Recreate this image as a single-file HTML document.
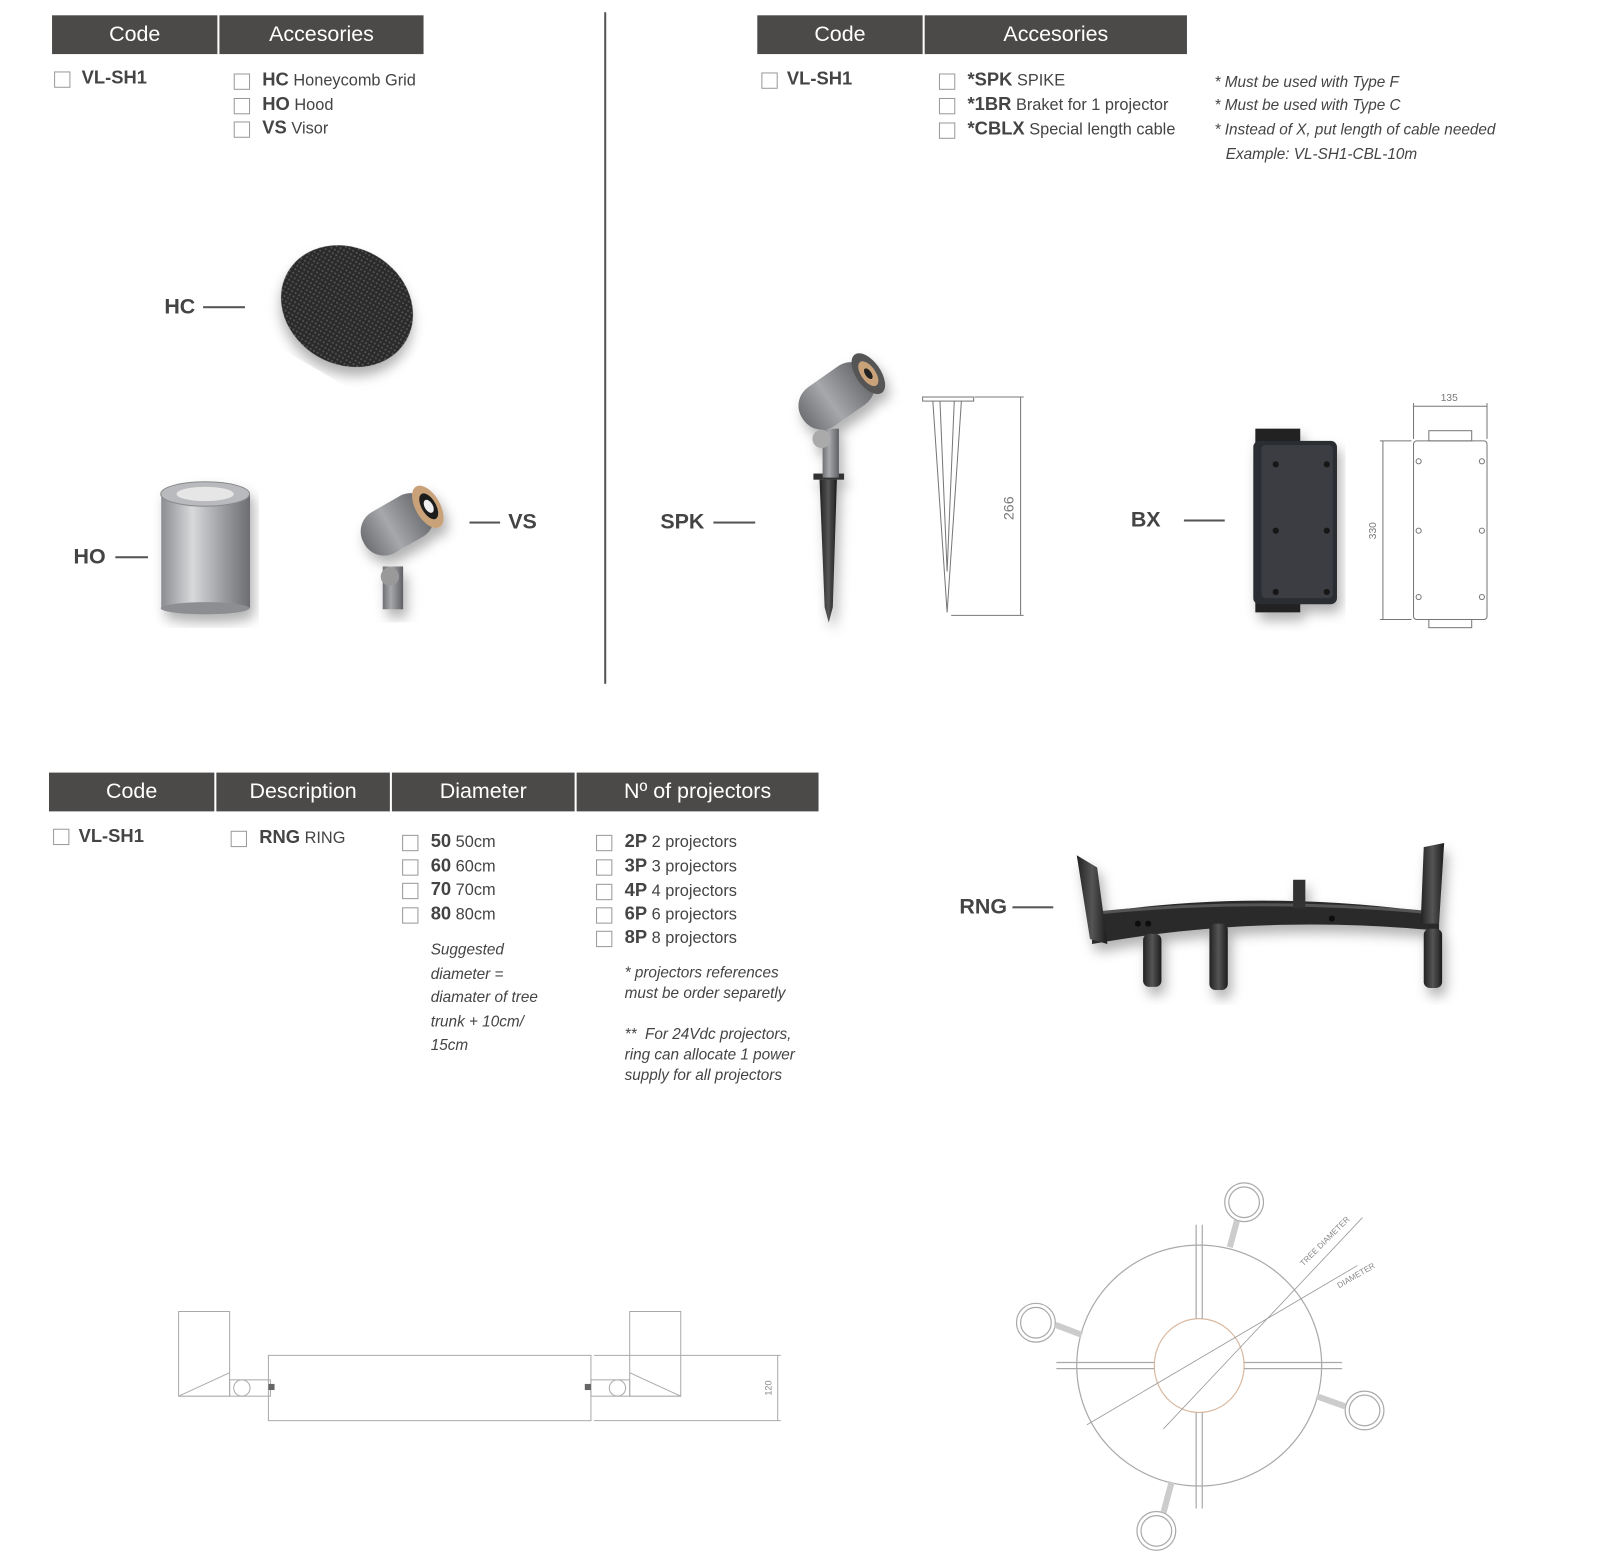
<!DOCTYPE html>
<html><head><meta charset="utf-8">
<style>
html,body{margin:0;padding:0;background:#fff;}
body{width:1600px;height:1568px;overflow:hidden;position:relative;}
#w{position:absolute;left:0;top:0;width:1552px;height:1521px;transform:scale(1.0206);transform-origin:0 0;font-family:"Liberation Sans",sans-serif;color:#444;}
.h{position:absolute;background:#4b4a48;color:#fff;font-size:21px;text-align:center;line-height:38px;height:38px;}
.cb{position:absolute;width:14px;height:14px;border:1.5px solid #999;background:#fff;}
.t{position:absolute;font-size:16px;color:#444;white-space:nowrap;}
.t b{font-size:18px;color:#444;}
.n{position:absolute;font-size:15px;font-style:italic;color:#444;white-space:nowrap;}
.lb{position:absolute;font-size:21px;font-weight:bold;color:#444;}
.ln{position:absolute;height:2px;background:#555;}
svg{position:absolute;left:0;top:0;}
</style></head><body><div id="w">

<div class="h" style="left:51px;top:15px;width:162px">Code</div>
<div class="h" style="left:215px;top:15px;width:200px">Accesories</div>
<div class="cb" style="left:53px;top:70px"></div><div class="t" style="left:80px;top:66px"><b>VL-SH1</b></div>
<div class="cb" style="left:229px;top:72px"></div><div class="t" style="left:257px;top:68px"><b>HC</b> Honeycomb Grid</div>
<div class="cb" style="left:229px;top:96px"></div><div class="t" style="left:257px;top:92px"><b>HO</b> Hood</div>
<div class="cb" style="left:229px;top:119px"></div><div class="t" style="left:257px;top:115px"><b>VS</b> Visor</div>

<div style="position:absolute;left:592px;top:12px;width:2px;height:658px;background:#555"></div>

<div class="h" style="left:742px;top:15px;width:162px">Code</div>
<div class="h" style="left:906px;top:15px;width:257px">Accesories</div>
<div class="cb" style="left:746px;top:71px"></div><div class="t" style="left:771px;top:67px"><b>VL-SH1</b></div>
<div class="cb" style="left:920px;top:72px"></div><div class="t" style="left:948px;top:68px"><b>*SPK</b> SPIKE</div>
<div class="cb" style="left:920px;top:96px"></div><div class="t" style="left:948px;top:92px"><b>*1BR</b> Braket for 1 projector</div>
<div class="cb" style="left:920px;top:120px"></div><div class="t" style="left:948px;top:116px"><b>*CBLX</b> Special length cable</div>
<div class="n" style="left:1190px;top:72px">* Must be used with Type F</div>
<div class="n" style="left:1190px;top:95px">* Must be used with Type C</div>
<div class="n" style="left:1190px;top:119px">* Instead of X, put length of cable needed</div>
<div class="n" style="left:1201px;top:143px">Example: VL-SH1-CBL-10m</div>

<div class="lb" style="left:161px;top:289px">HC</div><div class="ln" style="left:199px;top:300px;width:41px"></div>
<div class="lb" style="left:72px;top:534px">HO</div><div class="ln" style="left:113px;top:545px;width:32px"></div>
<div class="ln" style="left:460px;top:511px;width:30px"></div><div class="lb" style="left:498px;top:500px">VS</div>
<div class="lb" style="left:647px;top:500px">SPK</div><div class="ln" style="left:699px;top:511px;width:41px"></div>
<div class="lb" style="left:1108px;top:498px">BX</div><div class="ln" style="left:1160px;top:509px;width:40px"></div>

<div class="h" style="left:48px;top:757px;width:162px">Code</div>
<div class="h" style="left:212px;top:757px;width:170px">Description</div>
<div class="h" style="left:384px;top:757px;width:179px">Diameter</div>
<div class="h" style="left:565px;top:757px;width:237px">Nº of projectors</div>
<div class="cb" style="left:52px;top:812px"></div><div class="t" style="left:77px;top:809px"><b>VL-SH1</b></div>
<div class="cb" style="left:226px;top:814px"></div><div class="t" style="left:254px;top:810px"><b>RNG</b> RING</div>
<div class="cb" style="left:394px;top:818px"></div><div class="t" style="left:422px;top:814px"><b>50</b> 50cm</div>
<div class="cb" style="left:394px;top:842px"></div><div class="t" style="left:422px;top:838px"><b>60</b> 60cm</div>
<div class="cb" style="left:394px;top:865px"></div><div class="t" style="left:422px;top:861px"><b>70</b> 70cm</div>
<div class="cb" style="left:394px;top:889px"></div><div class="t" style="left:422px;top:885px"><b>80</b> 80cm</div>
<div class="n" style="left:422px;top:919px;line-height:23.5px">Suggested<br>diameter =<br>diamater of tree<br>trunk + 10cm/<br>15cm</div>
<div class="cb" style="left:584px;top:818px"></div><div class="t" style="left:612px;top:814px"><b>2P</b> 2 projectors</div>
<div class="cb" style="left:584px;top:842px"></div><div class="t" style="left:612px;top:838px"><b>3P</b> 3 projectors</div>
<div class="cb" style="left:584px;top:866px"></div><div class="t" style="left:612px;top:862px"><b>4P</b> 4 projectors</div>
<div class="cb" style="left:584px;top:889px"></div><div class="t" style="left:612px;top:885px"><b>6P</b> 6 projectors</div>
<div class="cb" style="left:584px;top:912px"></div><div class="t" style="left:612px;top:908px"><b>8P</b> 8 projectors</div>
<div class="n" style="left:612px;top:944px;line-height:20px">* projectors references<br>must be order separetly<br><br>**&nbsp; For 24Vdc projectors,<br>ring can allocate 1 power<br>supply for all projectors</div>
<div class="lb" style="left:940px;top:877px">RNG</div><div class="ln" style="left:992px;top:888px;width:40px"></div>

<svg width="1552" height="1521" viewBox="0 0 1552 1521">
<defs>
<pattern id="dots" width="4" height="4" patternUnits="userSpaceOnUse"><rect width="4" height="4" fill="#2a2a2a"/><circle cx="2" cy="2" r="1" fill="#555"/></pattern>
<linearGradient id="cyl" x1="0" x2="1"><stop offset="0" stop-color="#8a8c90"/><stop offset=".35" stop-color="#d8d9db"/><stop offset=".7" stop-color="#9a9ca0"/><stop offset="1" stop-color="#6c6e72"/></linearGradient>
<linearGradient id="grey" x1="0" x2="1"><stop offset="0" stop-color="#6e7074"/><stop offset=".4" stop-color="#a6a8ac"/><stop offset="1" stop-color="#5e6064"/></linearGradient>
<linearGradient id="dk" x1="0" x2="1"><stop offset="0" stop-color="#222"/><stop offset=".5" stop-color="#555"/><stop offset="1" stop-color="#1c1c1c"/></linearGradient>
<filter id="sh"><feDropShadow dx="4" dy="8" stdDeviation="6" flood-opacity=".3"/></filter>
</defs>
<ellipse cx="340" cy="300" rx="67" ry="57" transform="rotate(30 340 300)" fill="url(#dots)" filter="url(#sh)"/>
<g filter="url(#sh)"><rect x="158" y="484" width="87" height="112" fill="url(#cyl)"/><ellipse cx="201" cy="596" rx="43.5" ry="6" fill="#8c8e92"/><ellipse cx="201" cy="484" rx="43.5" ry="12" fill="#b8babd" stroke="#888"/><ellipse cx="201" cy="484" rx="28" ry="7" fill="#e6e6e6"/></g>
<g filter="url(#sh)"><rect x="375" y="555" width="20" height="42" fill="url(#grey)"/><circle cx="382" cy="565" r="9" fill="#999"/><g transform="rotate(-30 390 510)"><rect x="350" y="490" width="75" height="46" rx="22" fill="url(#grey)"/><ellipse cx="422" cy="513" rx="12" ry="23" fill="#c9a27a"/><ellipse cx="423" cy="513" rx="7" ry="14" fill="#1a1a1a"/><ellipse cx="423" cy="513" rx="4" ry="7" fill="#eee"/></g></g>
<g filter="url(#sh)"><path d="M803 470 L820 470 L816 595 L812 610 L808 595 Z" fill="url(#dk)"/><rect x="797" y="464" width="30" height="6" fill="#333"/><rect x="806" y="420" width="16" height="48" fill="url(#grey)"/><circle cx="805" cy="430" r="9" fill="#aaa"/><g transform="rotate(-35 815 390)"><rect x="780" y="368" width="80" height="46" rx="22" fill="url(#grey)"/><ellipse cx="858" cy="391" rx="12" ry="23" fill="#555"/><ellipse cx="858" cy="391" rx="7" ry="14" fill="#c9a27a"/><ellipse cx="858" cy="391" rx="3" ry="6" fill="#222"/></g></g>
<g fill="none" stroke="#777" stroke-width="1"><rect x="904" y="389" width="50" height="4"/><path d="M914 393 L928 600 L942 393 M921 393 L928 560 L935 393"/><path d="M955 389 H1003 M932 603 H1003 M1000 389 V603"/></g>
<text x="993" y="498" transform="rotate(-90 993 498)" font-size="14" fill="#777" text-anchor="middle" font-family="Liberation Sans">266</text>
<g filter="url(#sh)"><rect x="1230" y="420" width="44" height="180" fill="#222"/><rect x="1228" y="432" width="82" height="160" rx="6" fill="#2c2e33"/><rect x="1236" y="436" width="70" height="150" rx="4" fill="#3a3c42"/><g fill="#151515"><circle cx="1250" cy="455" r="3"/><circle cx="1300" cy="455" r="3"/><circle cx="1250" cy="520" r="3"/><circle cx="1300" cy="520" r="3"/><circle cx="1250" cy="580" r="3"/><circle cx="1300" cy="580" r="3"/></g></g>
<g fill="none" stroke="#777" stroke-width="1"><rect x="1385" y="432" width="72" height="175" rx="3"/><rect x="1400" y="422" width="42" height="10"/><rect x="1400" y="607" width="42" height="8"/><circle cx="1390" cy="452" r="2.5"/><circle cx="1452" cy="452" r="2.5"/><circle cx="1390" cy="520" r="2.5"/><circle cx="1452" cy="520" r="2.5"/><circle cx="1390" cy="585" r="2.5"/><circle cx="1452" cy="585" r="2.5"/><path d="M1385 398 H1457 M1385 395 V430 M1457 395 V430 M1352 432 H1383 M1352 607 H1383 M1355 432 V607"/></g>
<text x="1420" y="393" font-size="10" fill="#777" text-anchor="middle" font-family="Liberation Sans">135</text>
<text x="1348" y="520" transform="rotate(-90 1348 520)" font-size="10" fill="#777" text-anchor="middle" font-family="Liberation Sans">330</text>
<g filter="url(#sh)"><path d="M1070 895 Q1235 870 1410 895 L1410 912 Q1235 895 1070 925 Z" fill="#2a2a2a"/><path d="M1070 895 Q1235 878 1410 895" stroke="#555" fill="none" stroke-width="3"/><path d="M1055 838 L1075 850 L1085 925 L1068 920 Z" fill="url(#dk)"/><path d="M1395 830 L1415 826 L1410 905 L1392 905 Z" fill="url(#dk)"/><rect x="1120" y="915" width="18" height="52" rx="6" fill="url(#dk)"/><rect x="1185" y="905" width="18" height="65" rx="6" fill="url(#dk)"/><rect x="1395" y="910" width="18" height="58" rx="6" fill="url(#dk)"/><rect x="1267" y="862" width="12" height="28" fill="#333"/><g fill="#111"><circle cx="1115" cy="905" r="3"/><circle cx="1125" cy="905" r="3"/><circle cx="1305" cy="900" r="3"/></g></g>
<g fill="none" stroke="#aaa" stroke-width="1"><rect x="263" y="1328" width="316" height="64"/><path d="M175 1285 H225 V1368 H175 Z M175 1368 L225 1345 M617 1285 H667 V1368 H617 Z M667 1368 L617 1345"/><circle cx="237" cy="1360" r="8"/><rect x="225" y="1352" width="40" height="16"/><circle cx="605" cy="1360" r="8"/><rect x="579" y="1352" width="38" height="16"/><path d="M582 1328 H765 M582 1392 H765 M762 1328 V1392"/></g>
<rect x="263" y="1356" width="6" height="6" fill="#666"/><rect x="573" y="1356" width="6" height="6" fill="#666"/>
<text x="756" y="1360" transform="rotate(-90 756 1360)" font-size="9" fill="#888" text-anchor="middle" font-family="Liberation Sans">120</text>
<g fill="none" stroke="#aaa" stroke-width="1.2"><ellipse cx="1175" cy="1338" rx="120" ry="118"/><ellipse cx="1175" cy="1338" rx="44" ry="46" stroke="#d9b9a0"/>
<path d="M1172 1200 V1292 M1178 1200 V1292 M1172 1384 V1478 M1178 1384 V1478 M1035 1335 H1131 M1035 1341 H1131 M1219 1335 H1315 M1219 1341 H1315"/>
<circle cx="1219" cy="1178" r="19"/><circle cx="1219" cy="1178" r="15"/><circle cx="1015" cy="1296" r="19"/><circle cx="1015" cy="1296" r="15"/><circle cx="1337" cy="1382" r="19"/><circle cx="1337" cy="1382" r="15"/><circle cx="1133" cy="1500" r="19"/><circle cx="1133" cy="1500" r="15"/>
<path d="M1212 1196 L1205 1222 M1034 1298 L1060 1308 M1318 1378 L1290 1368 M1140 1482 L1148 1452" stroke-width="6" stroke="#ccc"/>
<path d="M1065 1396 L1330 1240 M1140 1400 L1335 1193" stroke="#999" stroke-width="0.8"/></g>
<text x="1300" y="1218" transform="rotate(-45 1300 1218)" font-size="8" fill="#888" text-anchor="middle" font-family="Liberation Sans">TREE DIAMETER</text>
<text x="1330" y="1252" transform="rotate(-30 1330 1252)" font-size="8" fill="#888" text-anchor="middle" font-family="Liberation Sans">DIAMETER</text>
</svg>
</div></body></html>
